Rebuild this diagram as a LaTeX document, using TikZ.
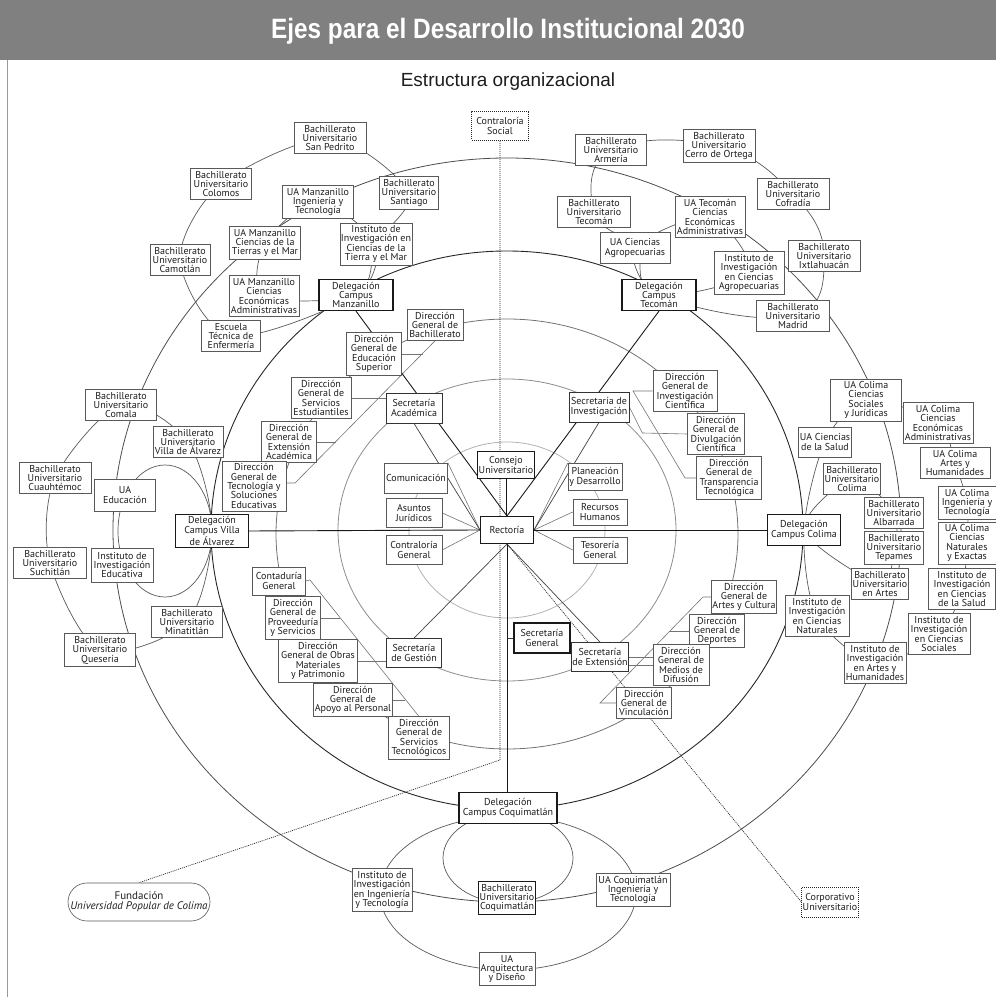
\documentclass[tikz,border=0pt]{standalone}
\usepackage{fontspec}
\setmainfont{Liberation Sans}
\newfontfamily\boxfamily{PT Sans}
\usepackage{tikz}
\usetikzlibrary{backgrounds, calc}
\definecolor{bargray}{RGB}{128,128,128}
\definecolor{inkgray}{RGB}{30,30,30}
\newcommand{\boxfont}{\boxfamily\fontsize{10}{9.4}\selectfont}

\begin{document}
\begin{tikzpicture}[
        x=1pt, y=1pt,
        box/.style={rectangle, draw=black!65, line width=0.6pt, fill=white, align=center, font=\boxfont, text=inkgray, inner xsep=1pt, inner ysep=2.5pt, minimum height=29pt},
        secbox/.style={box, draw=black!80, line width=0.8pt},
        keybox/.style={box, draw=black!90, line width=1.1pt},
        dotbox/.style={box, draw=black!85, dash pattern=on 1pt off 1pt},
        ringline/.style={line width=0.8pt},
        loopline/.style={black!65, line width=0.7pt},
        combline/.style={black!55, line width=0.6pt},
        mainline/.style={black!90, line width=0.9pt},
        secline/.style={black!75, line width=0.7pt},
        dotline/.style={black!85, line width=0.7pt, dash pattern=on 1pt off 1pt}
    ]
    \useasboundingbox (0,0) rectangle (996,997);
    % header
    \fill[bargray] (0,937) rectangle (996,997);
    \draw[black!40, line width=1pt] (7,0) -- (7,937);
    \node[text=white, font=\fontsize{28}{28}\selectfont\bfseries] (title) at (508,966) {\scalebox{0.87}[1]{Ejes para el Desarrollo Institucional 2030}};
    \node[text=inkgray, font=\fontsize{19}{19}\selectfont] (subtitle) at (508,915) {Estructura organizacional};

    % centre
    \node[keybox, minimum width=53pt, minimum height=27pt] (rect) at (507,467) {Rectoría};
    \node[keybox, minimum width=55pt, minimum height=27pt] (consejo) at (506,532) {Consejo\\Universitario};
    \node[dotbox, minimum width=57pt] (contsoc) at (500,871) {Contraloría\\Social};
    \node[box, minimum width=63pt, minimum height=30pt] (com) at (416,519) {Comunicación};
    \node[box, minimum width=56pt] (asun) at (414,484) {Asuntos\\Jurídicos};
    \node[box, minimum width=56pt] (contgen) at (414,447) {Contraloría\\General};
    \node[box, minimum width=54pt, minimum height=27pt] (plan) at (595,520) {Planeación\\y Desarrollo};
    \node[box, minimum width=54pt, minimum height=26pt] (rrhh) at (600,485) {Recursos\\Humanos};
    \node[box, minimum width=54pt, minimum height=26pt] (teso) at (600,447) {Tesorería\\General};

    % secretarias
    \node[secbox, minimum width=56pt, minimum height=30pt] (secacad) at (414,589) {Secretaría\\Académica};
    \node[secbox, minimum width=60pt, minimum height=30pt] (secinv) at (599,590) {Secretaría de\\Investigación};
    \node[secbox, minimum width=55pt] (secgest) at (414,344) {Secretaría\\de Gestión};
    \node[keybox, minimum width=56pt, minimum height=30pt] (secgen) at (542,359) {Secretaría\\General};
    \node[secbox, minimum width=55pt] (secext) at (600,340) {Secretaría\\de Extensión};

    % direcciones
    \node[box, minimum width=56pt] (dgbach) at (435,672) {Dirección\\General de\\Bachillerato};
    \node[box, minimum width=55pt] (dges) at (374,643) {Dirección\\General de\\Educación\\Superior};
    \node[box, minimum width=60pt] (dgse) at (321,599) {Dirección\\General de\\Servicios\\Estudiantiles};
    \node[box, minimum width=55pt] (dgea) at (289,555) {Dirección\\General de\\Extensión\\Académica};
    \node[box, minimum width=64pt] (dgtec) at (254,511) {Dirección\\General de\\Tecnología y\\Soluciones\\Educativas};
    \node[box, minimum width=64pt] (dgic) at (685,606) {Dirección\\General de\\Investigación\\Científica};
    \node[box, minimum width=57pt] (dgdc) at (716,563) {Dirección\\General de\\Divulgación\\Científica};
    \node[box, minimum width=65pt] (dgtt) at (729,519) {Dirección\\General de\\Transparencia\\Tecnológica};
    \node[box, minimum width=53pt, minimum height=28pt] (contad) at (279,416) {Contaduría\\General};
    \node[box, minimum width=55pt] (dgprov) at (293,379) {Dirección\\General de\\Proveeduría\\y Servicios};
    \node[box, minimum width=79pt] (dgobras) at (318,336) {Dirección\\General de Obras\\Materiales\\y Patrimonio};
    \node[box, minimum width=79pt] (dgapoyo) at (353,297) {Dirección\\General de\\Apoyo al Personal};
    \node[box, minimum width=61pt] (dgstec) at (419,259) {Dirección\\General de\\Servicios\\Tecnológicos};
    \node[box, minimum width=65pt] (dgac) at (744,400) {Dirección\\General de\\Artes y Cultura};
    \node[box, minimum width=55pt] (dgdep) at (717,366) {Dirección\\General de\\Deportes};
    \node[box, minimum width=56pt] (dgmed) at (681,332) {Dirección\\General de\\Medios de\\Difusión};
    \node[box, minimum width=55pt] (dgvin) at (644,294) {Dirección\\General de\\Vinculación};

    % delegaciones
    \node[keybox, minimum width=74pt] (delmz) at (356,702) {Delegación\\Campus\\Manzanillo};
    \node[keybox, minimum width=74pt] (deltec) at (659,702) {Delegación\\Campus\\Tecomán};
    \node[keybox, minimum width=73pt] (delva) at (212,466) {Delegación\\Campus Villa\\de Álvarez};
    \node[keybox, minimum width=73pt, minimum height=31pt] (delcol) at (804,467) {Delegación\\Campus Colima};
    \node[keybox, minimum width=98pt, minimum height=31pt] (delcoq) at (508,189) {Delegación\\Campus Coquimatlán};

    % campus Manzanillo
    \node[box, minimum width=72pt] (sanpedrito) at (330,859) {Bachillerato\\Universitario\\San Pedrito};
    \node[box, minimum width=61pt] (colomos) at (221,813) {Bachillerato\\Universitario\\Colomos};
    \node[box, minimum width=71pt] (uaing) at (318,795) {UA Manzanillo\\Ingeniería y\\Tecnología};
    \node[box, minimum width=59pt] (santiago) at (409,804) {Bachillerato\\Universitario\\Santiago};
    \node[box, minimum width=71pt] (uatierra) at (265,754) {UA Manzanillo\\Ciencias de la\\Tierras y el Mar};
    \node[box, minimum width=60pt] (camotlan) at (180,737) {Bachillerato\\Universitario\\Camotlán};
    \node[box, minimum width=72pt] (instmz) at (376,753) {Instituto de\\Investigación en\\Ciencias de la\\Tierra y el Mar};
    \node[box, minimum width=70pt] (uacea) at (264,701) {UA Manzanillo\\Ciencias\\Económicas\\Administrativas};
    \node[box, minimum width=59pt] (escuela) at (231,661) {Escuela\\Técnica de\\Enfermería};

    % campus Tecoman
    \node[box, minimum width=71pt] (armeria) at (611,847) {Bachillerato\\Universitario\\Armería};
    \node[box, minimum width=72pt] (cerro) at (719,851) {Bachillerato\\Universitario\\Cerro de Ortega};
    \node[box, minimum width=73pt] (bachtec) at (594,785) {Bachillerato\\Universitario\\Tecomán};
    \node[box, minimum width=70pt] (uatec) at (710,780) {UA Tecomán\\Ciencias\\Económicas\\Administrativas};
    \node[box, minimum width=72pt] (cofradia) at (793,803) {Bachillerato\\Universitario\\Cofradía};
    \node[box, minimum width=70pt, minimum height=31pt] (uaagro) at (635,749) {UA Ciencias\\Agropecuarias};
    \node[box, minimum width=70pt] (instagro) at (749,724) {Instituto de\\Investigación\\en Ciencias\\Agropecuarias};
    \node[box, minimum width=72pt] (ixtla) at (824,741) {Bachillerato\\Universitario\\Ixtlahuacán};
    \node[box, minimum width=73pt] (madrid) at (793,681) {Bachillerato\\Universitario\\Madrid};

    % campus Villa de Alvarez
    \node[box, minimum width=71pt] (comala) at (121,592) {Bachillerato\\Universitario\\Comala};
    \node[box, minimum width=70pt] (bachva) at (188,555) {Bachillerato\\Universitario\\Villa de Álvarez};
    \node[box, minimum width=72pt] (cuau) at (55,519) {Bachillerato\\Universitario\\Cuauhtémoc};
    \node[box, minimum width=61pt, minimum height=32pt] (uaedu) at (125,502) {UA\\Educación};
    \node[box, minimum width=73pt] (such) at (50,434) {Bachillerato\\Universitario\\Suchitlán};
    \node[box, minimum width=62pt, minimum height=34pt] (inedu) at (122,432) {Instituto de\\Investigación\\Educativa};
    \node[box, minimum width=71pt] (mina) at (187,375) {Bachillerato\\Universitario\\Minatitlán};
    \node[box, minimum width=71pt] (quese) at (100,347) {Bachillerato\\Universitario\\Quesería};

    % campus Colima
    \node[box, minimum width=71pt] (uacsj) at (866,597) {UA Colima\\Ciencias\\Sociales\\y Jurídicas};
    \node[box, minimum width=70pt] (uacolcea) at (938,574) {UA Colima\\Ciencias\\Económicas\\Administrativas};
    \node[box, minimum width=53pt, minimum height=30pt] (uasalud) at (825,555) {UA Ciencias\\de la Salud};
    \node[box, minimum width=70pt] (uaayh) at (955,534) {UA Colima\\Artes y\\Humanidades};
    \node[box, minimum width=57pt] (bachcol) at (852,518) {Bachillerato\\Universitario\\Colima};
    \node[box, minimum width=59pt] (albarrada) at (894,484) {Bachillerato\\Universitario\\Albarrada};
    \node[box, minimum width=58pt] (uaingcol) at (967,494) {UA Colima\\Ingeniería y\\Tecnología};
    \node[box, minimum width=59pt] (tepames) at (894,449) {Bachillerato\\Universitario\\Tepames};
    \node[box, minimum width=58pt] (uacne) at (967,454) {UA Colima\\Ciencias\\Naturales\\y Exactas};
    \node[box, minimum width=56pt] (bachartes) at (880,413) {Bachillerato\\Universitario\\en Artes};
    \node[box, minimum width=67pt] (iicsalud) at (962,408) {Instituto de\\Investigación\\en Ciencias\\de la Salud};
    \node[box, minimum width=64pt] (iicn) at (817,381) {Instituto de\\Investigación\\en Ciencias\\Naturales};
    \node[box, minimum width=62pt] (iicsoc) at (939,363) {Instituto de\\Investigación\\en Ciencias\\Sociales};
    \node[box, minimum width=62pt] (iiayh) at (875,334) {Instituto de\\Investigación\\en Artes y\\Humanidades};

    % campus Coquimatlan
    \node[box, minimum width=60pt] (iiing) at (382,107) {Instituto de\\Investigación\\en Ingeniería\\y Tecnología};
    \node[keybox, minimum width=57pt] (bachcoq) at (507,99) {Bachillerato\\Universitario\\Coquimatlán};
    \node[box, minimum width=74pt, minimum height=31pt] (uacoqing) at (633,107) {UA Coquimatlán\\Ingeniería y\\Tecnología};
    \node[box, minimum width=56pt, minimum height=32pt] (uaarq) at (507,28) {UA\\Arquitectura\\y Diseño};

    % outside bodies
    \node[box, rounded corners=19pt, minimum width=142pt, minimum height=38pt, font=\boxfamily\fontsize{11}{10}\selectfont] (fund) at (139,95) {Fundación\\\textit{Universidad Popular de Colima}};
    \node[dotbox, minimum width=56pt, minimum height=30pt] (corp) at (830,95) {Corporativo\\Universitario};

    \begin{scope}[on background layer]
        % rings round the Rectoria
        \draw[ringline, black!30] (rect.center) ellipse [x radius=98pt, y radius=88pt];
        \draw[ringline, black!45] (rect.center) ellipse [x radius=169pt, y radius=151pt];
        \draw[ringline, black!55] ([yshift=-4pt]rect.center) ellipse [x radius=231pt, y radius=215pt];
        \draw[ringline, black!85, line width=0.9pt] (rect.center) ellipse [x radius=296pt, y radius=279pt];
        \draw[ringline, black!70] (rect.center) ellipse [x radius=394pt, y radius=372pt];

        % campus loops
        \draw[loopline] plot[smooth cycle] coordinates {(delmz) (escuela) (camotlan) (colomos) (sanpedrito) (santiago) (instmz)};
        \draw[loopline] plot[smooth cycle] coordinates {(delmz) (instmz) (uaing) (uatierra) (uacea)};
        \draw[loopline] plot[smooth cycle, tension=0.7] coordinates {(deltec) (uaagro) (bachtec) (armeria) (cerro) (cofradia) (ixtla) (madrid)};
        \draw[loopline] plot[smooth cycle] coordinates {(deltec) (instagro) (uatec) (uaagro)};
        \draw[loopline] plot[smooth cycle] coordinates {(delva) (bachva) (comala) (cuau) (such) (quese) (mina)};
        \draw[loopline] ([xshift=-47pt]delva.center) ellipse [x radius=47pt, y radius=66pt];
        \draw[loopline] plot[smooth cycle] coordinates {(delcol) (uasalud) (uacsj) (uacolcea) (uaayh) (uaingcol) (uacne) (iicsalud) (iicsoc) (iiayh) (iicn)};
        \draw[loopline] plot[smooth cycle] coordinates {(delcol) (bachcol) (albarrada) (tepames) (bachartes)};
        \draw[loopline] ([yshift=-50pt]delcoq.center) ellipse [x radius=65pt, y radius=45pt];
        \draw[loopline] ([yshift=-85pt]delcoq.center) ellipse [x radius=128pt, y radius=77pt];

        % direcciones combs
        \coordinate (spA) at (295,514);
        \draw[combline] (dgbach.south) -- (spA) -- (spA -| dgtec.east);
        \draw[combline] (dges.east) -- +(21pt,0);
        \draw[combline] (dgse.east) -- (dgse.east -| secacad.west);
        \draw[combline] (dgea.east) -- +(19pt,0);
        \coordinate (spB) at (310,417);
        \draw[combline] (contad.east) -- (spB) -- (dgstec.north);
        \draw[combline] (dgprov.east) -- +(19pt,0);
        \draw[combline] (dgobras.east) -- (dgobras.east -| secgest.west);
        \draw[combline] (dgapoyo.east) -- +(12pt,0);
        \coordinate (spC1) at (633,606);
        \coordinate (spC2) at (685,519);
        \draw[combline] (dgic.west) -- (spC1) -- (spC2) -- (dgtt.west);
        \draw[combline] (secinv.east) -- ++(13pt,-26pt) -- (dgdc.west);
        \coordinate (spD1) at (703,400);
        \coordinate (spD2) at (600,294);
        \draw[combline] (dgac.west) -- (spD1) -- (spD2) -- (dgvin.west);
        \draw[combline] (dgdep.west) -- +(-20pt,0);
        \draw[combline] (secext.east) -- (secext.east -| dgmed.west);
        \draw[combline] (dgmed.west) -- (dgmed.west -| secext.east);

        % round the Rectoria
        \draw[combline] (com.north east) -- (rect.west);
        \draw[combline] (asun.east) -- (rect.west);
        \draw[combline] (contgen.east) -- (rect.west);
        \draw[combline] (plan.north west) -- (rect.east);
        \draw[combline] (rrhh.west) -- (rect.east);
        \draw[combline] (teso.west) -- (rect.east);
        \draw[secline] (secacad.south) -- (rect.west);
        \draw[secline] (secinv.south) -- (rect.east);
        \draw[secline] (secgest.north) -- (rect.south);
        \draw[secline] (secext.north) -- (rect.south);
        \draw[secline] (secgen.west) -- (secgen.west -| rect.south);
        \draw[mainline] (consejo.south) -- (consejo.south |- rect.north);
        \draw[mainline] (rect.south) -- (rect.south |- delcoq.north);
        \draw[mainline] (rect.west) -- (delva.east);
        \draw[mainline] (rect.east) -- (delcol.west);
        \draw[mainline] (delmz.south) -- (rect.north);
        \draw[mainline] (deltec.south) -- (rect.north);

        % dotted links
        \coordinate (dotbend) at (500,237);
        \draw[dotline] (contsoc.south) -- (contsoc.south |- dotbend) -- (fund.north);
        \draw[dotline] (rect.south) -- (corp.west);
    \end{scope}
\end{tikzpicture}
\end{document}
